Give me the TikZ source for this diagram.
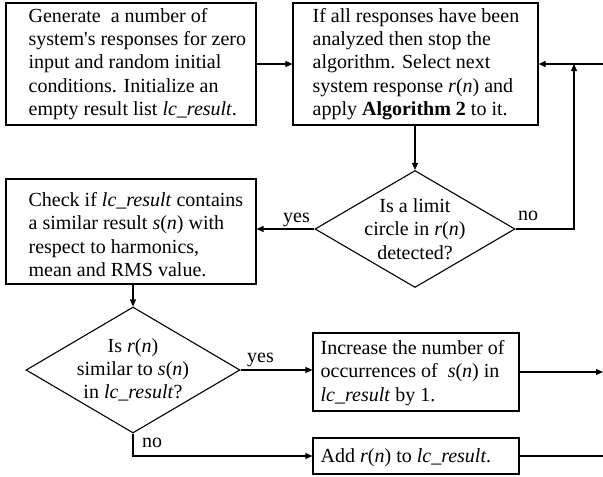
\documentclass[tikz,border=0pt]{standalone}
\usepackage{fontspec}
\setmainfont{Liberation Serif}
\usetikzlibrary{arrows.meta,shapes.geometric,calc}
\begin{document}
\begin{tikzpicture}[x=1pt,y=-1pt,
  box/.style={draw,line width=1.1pt,rectangle,inner sep=0pt},
  dia/.style={draw,line width=1.1pt,diamond,inner sep=0pt},
  txt/.style={inner sep=0pt,align=left,anchor=west,font=\fontsize{20}{23.3}\selectfont},
  ctxt/.style={inner sep=0pt,align=center,font=\fontsize{20}{23.3}\selectfont},
  lbl/.style={inner sep=0pt,anchor=base west,font=\fontsize{20}{24}\selectfont},
  arr/.style={line width=1.1pt,-{Triangle[length=7pt,width=6pt]}},
  ln/.style={line width=1.1pt}]
\useasboundingbox (0,0) rectangle (603,477);
% boxes
\node[box,minimum width=250pt,minimum height=122pt] (b1) at (131,64) {};
\node[txt] (t1) at ($(b1.west)+(23,0)$) {Generate\ \ a number of\\system\textquotesingle s responses for zero\\input and random initial\\conditions. Initialize an\\empty result list \textit{lc\_result}.};
\node[box,minimum width=245pt,minimum height=122pt] (b2) at (415.5,64) {};
\node[txt] (t2) at ($(b2.west)+(20,0)$) {If all responses have been\\analyzed then stop the\\algorithm. Select next\\system response \textit{r}(\textit{n}) and\\apply \textbf{Algorithm 2} to it.};
\node[dia,minimum width=200pt,minimum height=117pt] (d1) at (415,229) {};
\node[ctxt] (t3) at (d1) {Is a limit\\circle in \textit{r}(\textit{n})\\detected?};
\node[box,minimum width=250pt,minimum height=105pt] (b3) at (131,231.5) {};
\node[txt] (t4) at ($(b3.west)+(23,3)$) {Check if \textit{lc\_result} contains\\a similar result \textit{s}(\textit{n}) with\\respect to harmonics,\\mean and RMS value.};
\node[dia,minimum width=214pt,minimum height=126pt] (d2) at (133,370) {};
\node[ctxt] (t5) at (d2) {Is \textit{r}(\textit{n})\\similar to \textit{s}(\textit{n})\\in \textit{lc\_result}?};
\node[box,minimum width=206pt,minimum height=78pt] (b4) at (416,372) {};
\node[txt] (t6) at ($(b4.west)+(8,1)$) {Increase the number of\\occurrences of\ \ \textit{s}(\textit{n}) in\\\textit{lc\_result} by 1.};
\node[box,minimum width=206pt,minimum height=36pt] (b5) at (416,456) {};
\node[txt] (t7) at ($(b5.west)+(8,2)$) {Add \textit{r}(\textit{n}) to \textit{lc\_result}.};
% labels
\node[lbl] (l1) at (283,222) {yes};
\node[lbl] (l2) at (518,220) {no};
\node[lbl] (l3) at (247,362) {yes};
\node[lbl] (l4) at (142,447) {no};
% connectors
\coordinate (rin) at (603,64);
\coordinate (jn) at (574,64);
\draw[arr] (b1.east) -- (b2.west);
\draw[arr] (rin) -- (b2.east);
\draw[arr] (d1.east) -| (jn);
\draw[arr] (b2.south -| d1.north) -- (d1.north);
\draw[arr] (d1.west) -- (d1.west -| b3.east);
\draw[arr] (d2.north |- b3.south) -- (d2.north);
\draw[arr] (d2.east) -- (d2.east -| b4.west);
\draw[arr] (b4.east) -- (b4.east -| rin);
\draw[arr] (d2.south) |- (b5.west);
\draw[ln] (b5.east) -- (b5.east -| rin);
\end{tikzpicture}
\end{document}
